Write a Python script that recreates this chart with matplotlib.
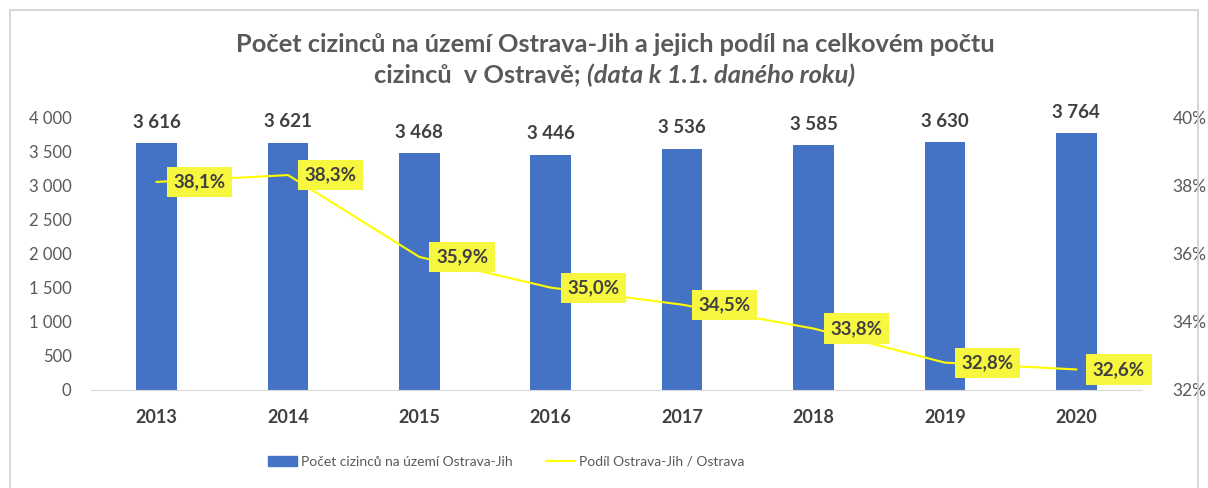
import matplotlib.pyplot as plt
from matplotlib.patches import Rectangle
from matplotlib.lines import Line2D
from matplotlib.patches import Patch

plt.rcParams['font.family'] = ['Lato', 'DejaVu Sans']

# data
roky = ['2013', '2014', '2015', '2016', '2017', '2018', '2019', '2020']
pocet = [3616, 3621, 3468, 3446, 3536, 3585, 3630, 3764]
podil = [38.1, 38.3, 35.9, 35.0, 34.5, 33.8, 32.8, 32.6]

modra = '#4472C4'
zluta = '#FFFF00'
seda = '#595959'

fig = plt.figure(figsize=(12.08, 4.88), dpi=100)
fig.patches.append(Rectangle((10 / 1208, -0.1), 1188 / 1208, 1.1 - 10 / 488,
                             transform=fig.transFigure, fill=False,
                             edgecolor='#D0D0D0', linewidth=1.2))

ax = fig.add_axes([0.0753, 0.201, 0.870, 0.559])
x = list(range(len(roky)))
ax.bar(x, pocet, width=0.31, color=modra, zorder=2)
ax.set_xlim(-0.5, 7.5)
ax.set_ylim(0, 4000)
ax.set_yticks(range(0, 4001, 500))
ax.set_yticklabels([f'{v:,}'.replace(',', ' ') for v in range(0, 4001, 500)])
ax.set_xticks(x)
ax.set_xticklabels(roky, fontweight='bold', fontsize=13)
ax.tick_params(axis='y', length=0, labelsize=12, colors=seda, pad=14)
ax.tick_params(axis='x', length=0, pad=14, labelcolor='#404040')
for s in ['top', 'right', 'left']:
    ax.spines[s].set_visible(False)
ax.spines['bottom'].set_color('#D9D9D9')

for i, v in enumerate(pocet):
    ax.annotate(f'{v:,}'.replace(',', ' '), (i, v), xytext=(0, 9),
                textcoords='offset points', ha='center', va='bottom',
                fontsize=13.5, fontweight='bold', color='#404040')

ax2 = ax.twinx()
ax2.plot(x, podil, color=zluta, linewidth=1.5, zorder=3)
ax2.set_ylim(32, 40)
ax2.set_yticks([32, 34, 36, 38, 40])
ax2.set_yticklabels([f'{v}%' for v in [32, 34, 36, 38, 40]])
ax2.tick_params(axis='y', length=0, labelsize=12.5, colors=seda, pad=22)
for s in ax2.spines.values():
    s.set_visible(False)

for i, v in enumerate(podil):
    ax2.annotate(f'{v:.1f}%'.replace('.', ','), (i, v), xytext=(12, 0),
                 textcoords='offset points', ha='left', va='center',
                 fontsize=13.5, fontweight='bold', color='#404040',
                 bbox=dict(boxstyle='square,pad=0.35', fc='#F7F740', ec='none'))

# title
fig.text(0.509, 1 - 45 / 488, 'Počet cizinců na území Ostrava-Jih a jejich podíl na celkovém počtu',
         ha='center', va='center', fontsize=18.3, fontweight='bold', color=seda)
r = fig.canvas.get_renderer()
t1 = fig.text(0, 1 - 75 / 488, 'cizinců  v Ostravě; ', ha='left', va='center',
              fontsize=18.3, fontweight='bold', color=seda)
t2 = fig.text(0, 1 - 75 / 488, '(data k 1.1. daného roku)', ha='left', va='center',
              fontsize=18.3, fontweight='bold', fontstyle='italic', color=seda)
w1 = t1.get_window_extent(r).width / 1208
w2 = t2.get_window_extent(r).width / 1208
x0 = 0.509 - (w1 + w2) / 2
t1.set_x(x0)
t2.set_x(x0 + w1)

handles = [Patch(color=modra, label='Počet cizinců na území Ostrava-Jih'),
           Line2D([], [], color=zluta, linewidth=1.5, label='Podíl Ostrava-Jih / Ostrava')]
leg = fig.legend(handles=handles, loc='center', bbox_to_anchor=(0.419, 1 - 462 / 488),
                 ncol=2, frameon=False, fontsize=10, columnspacing=2.4,
                 handlelength=2.1, handletextpad=0.3)
for t in leg.get_texts():
    t.set_color(seda)

fig.savefig('out.png', dpi=100)
